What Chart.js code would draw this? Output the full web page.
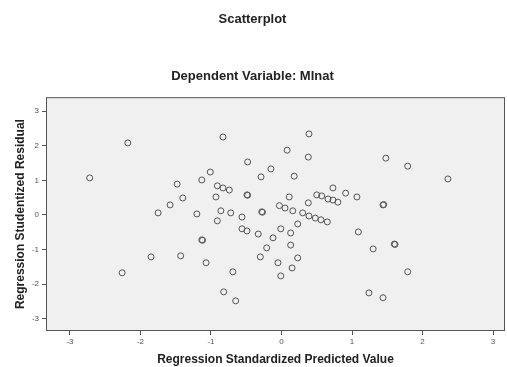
<!DOCTYPE html>
<html>
<head>
<meta charset="utf-8">
<script src="https://cdn.jsdelivr.net/npm/chart.js@4/dist/chart.umd.min.js"></script>
<style>
  html, body { margin: 0; padding: 0; background: #fff; }
  #wrap { width: 507px; height: 367px; }
</style>
</head>
<body>
<div id="wrap"><canvas id="residChart"></canvas></div>
<script>
// Regression Standardized Predicted Value
const predicted = [
  -2.72, -2.18, -2.26, -1.85, -1.75, -1.58, -1.48, -1.40, -1.43, -1.20,
  -1.13, -1.13, -1.12, -1.07, -1.01, -0.91, -0.83, -0.74, -0.93, -0.86,
  -0.91, -0.83, -0.82, -0.72, -0.69, -0.65, -0.56, -0.56, -0.49, -0.49,
  -0.48, -0.48, -0.33, -0.30, -0.29, -0.28, -0.27, -0.21, -0.15, -0.12,
  -0.03, 0.05, 0.16, -0.05, -0.01, -0.01, 0.08, 0.11, 0.13, 0.13,
  0.15, 0.18, 0.23, 0.23, 0.30, 0.39, 0.48, 0.56, 0.65, 0.38,
  0.38, 0.39, 0.50, 0.57, 0.66, 0.73, 0.80, 0.73, 0.91, 1.07,
  1.09, 1.30, 1.24, 1.44, 1.44, 1.45, 1.48, 1.60, 1.61, 1.79,
  1.79, 2.36
];
// Regression Studentized Residual
const residual = [
  1.07, 2.08, -1.67, -1.21, 0.06, 0.29, 0.89, 0.49, -1.18, 0.03,
  1.01, -0.72, -0.73, -1.38, 1.24, 0.84, 0.78, 0.72, 0.52, 0.12,
  -0.17, 2.25, -2.22, 0.06, -1.64, -2.48, -0.06, -0.40, -0.46, 0.58,
  0.57, 1.53, -0.55, -1.21, 1.10, 0.09, 0.08, -0.95, 1.33, -0.66,
  0.27, 0.20, 0.12, -1.38, -0.40, -1.76, 1.87, 0.52, -0.52, -0.87,
  -1.53, 1.12, -0.26, -1.24, 0.06, -0.03, -0.09, -0.14, -0.20, 0.35,
  1.67, 2.34, 0.58, 0.55, 0.46, 0.43, 0.37, 0.78, 0.63, 0.52,
  -0.49, -0.98, -2.25, -2.39, 0.29, 0.30, 1.64, -0.84, -0.85, 1.41,
  -1.64, 1.04
];
const tickValues = [-3, -2, -1, 0, 1, 2, 3];

const points = predicted.map((x, i) => ({ x: x, y: residual[i] }));

const plotFrame = {
  id: 'plotFrame',
  beforeDatasetsDraw(chart) {
    const { ctx, chartArea: a } = chart;
    ctx.save();
    ctx.fillStyle = '#f0f0f0';
    ctx.fillRect(a.left, a.top, a.right - a.left, a.bottom - a.top);
    ctx.strokeStyle = '#555';
    ctx.lineWidth = 1;
    ctx.strokeRect(a.left + 0.5, a.top + 0.5, a.right - a.left - 1, a.bottom - a.top - 1);
    ctx.restore();
  }
};

new Chart(document.getElementById('residChart').getContext('2d'), {
  type: 'scatter',
  data: {
    datasets: [{
      data: points,
      pointStyle: 'circle',
      pointRadius: 3,
      pointBorderWidth: 1,
      borderColor: '#555',
      backgroundColor: 'rgba(0,0,0,0)'
    }]
  },
  options: {
    responsive: true,
    maintainAspectRatio: false,
    animation: false,
    layout: { autoPadding: false, padding: { left: 0, right: 2, top: 0, bottom: 0 } },
    plugins: {
      legend: { display: false },
      tooltip: { enabled: false },
      title: {
        display: true,
        text: 'Scatterplot',
        color: '#222',
        font: { family: 'Arial, "Liberation Sans"', size: 13, weight: 'bold' },
        padding: { top: 12, bottom: 0 }
      },
      subtitle: {
        display: true,
        text: 'Dependent Variable: MInat',
        color: '#222',
        font: { family: 'Arial, "Liberation Sans"', size: 13, weight: 'bold' },
        padding: { top: 41, bottom: 13 }
      }
    },
    scales: {
      x: {
        type: 'linear',
        min: -3.34,
        max: 3.17,
        afterBuildTicks: (s) => { s.ticks = tickValues.map(v => ({ value: v })); },
        afterFit: (s) => { s.height = 36; },
        grid: { display: true, drawOnChartArea: false, drawTicks: true, tickLength: 4, color: '#555' },
        border: { display: false },
        ticks: {
          color: '#555',
          padding: 2,
          font: { family: 'Arial, "Liberation Sans"', size: 8 }
        },
        title: {
          display: true,
          text: 'Regression Standardized Predicted Value',
          color: '#222',
          font: { family: 'Arial, "Liberation Sans"', size: 12, weight: 'bold' },
          padding: { top: 0, bottom: 0 }
        }
      },
      y: {
        type: 'linear',
        min: -3.35,
        max: 3.4,
        afterBuildTicks: (s) => { s.ticks = tickValues.map(v => ({ value: v })); },
        afterFit: (s) => { s.width = 46; },
        grid: { display: true, drawOnChartArea: false, drawTicks: true, tickLength: 4, color: '#555' },
        border: { display: false },
        ticks: {
          color: '#555',
          padding: 3,
          font: { family: 'Arial, "Liberation Sans"', size: 8 }
        },
        title: {
          display: true,
          text: 'Regression Studentized Residual',
          color: '#222',
          font: { family: 'Arial, "Liberation Sans"', size: 12, weight: 'bold' },
          padding: { top: 13, bottom: 0 }
        }
      }
    }
  },
  plugins: [plotFrame]
});
</script>
</body>
</html>
